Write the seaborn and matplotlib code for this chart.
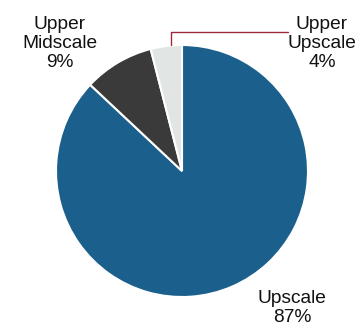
import matplotlib
matplotlib.use("Agg")
import matplotlib.pyplot as plt
import seaborn as sns

# data
segments = ["Upscale", "Upper Midscale", "Upper Upscale"]
shares = [87, 9, 4]
seg_colors = ["#1b5f8c", "#3a3a3a", "#e1e5e3"]

sns.set_theme(style="white")
plt.rcParams["font.family"] = ["Liberation Sans", "DejaVu Sans"]

W, H = 364, 327
fig = plt.figure(figsize=(W / 100, H / 100), dpi=100)
ax = fig.add_axes([0, 0, 1, 1])

def py(y):
    # pixel row (from top) -> data y
    return H - y

cx, cy, r = 182, 171, 126
ax.pie(shares, colors=seg_colors, startangle=90, counterclock=False,
       center=(cx, py(cy)), radius=r, frame=True,
       wedgeprops=dict(edgecolor="white", linewidth=1.5))
ax.set_xlim(0, W)
ax.set_ylim(0, H)
ax.set_aspect("equal")
ax.axis("off")

fs = 13.8
ls = 1.15
# va="baseline" pins the last line's baseline
txt = dict(ha="center", va="baseline", fontsize=fs, linespacing=ls, color="#111111")
ax.text(60, py(67), f"Upper\nMidscale\n{shares[1]}%", **txt)
ax.text(322, py(67), f"Upper\nUpscale\n{shares[2]}%", **txt)
ax.text(292, py(322), f"Upscale\n{shares[0]}%", **txt)

# leader line for the small slice
ax.plot([170.5, 170.5, 288], [py(45), py(32), py(32)], color="#9b2b3a", linewidth=1)

fig.savefig("out.png", dpi=100)
